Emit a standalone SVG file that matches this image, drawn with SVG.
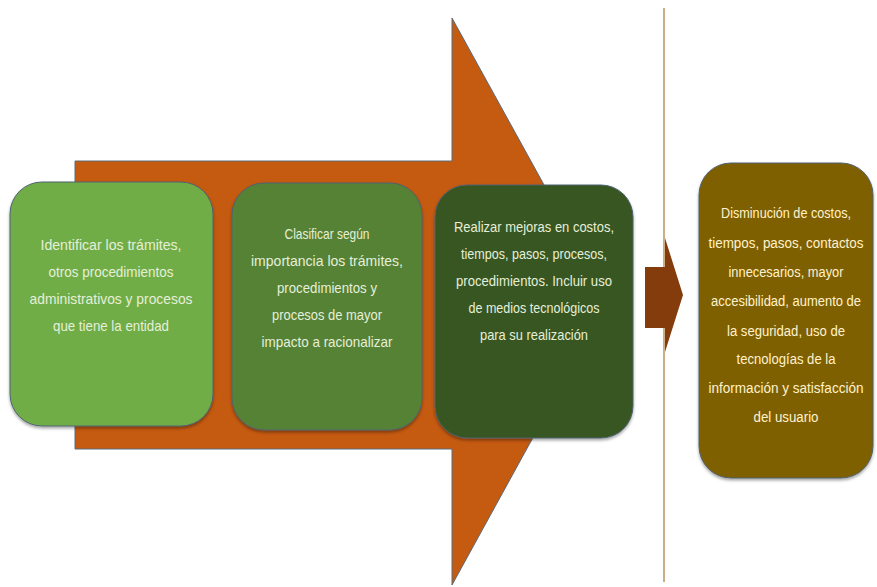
<svg xmlns="http://www.w3.org/2000/svg" width="877" height="587" viewBox="0 0 877 587">
<defs>
<filter id="sh" x="-10%" y="-10%" width="120%" height="125%">
<feDropShadow dx="0" dy="2" stdDeviation="1.5" flood-color="#000" flood-opacity="0.35"/>
</filter>
<style>
.box{stroke:#4f6272;stroke-width:1;filter:url(#sh)}
.t{font-family:"Liberation Sans","Open Sans",sans-serif;font-size:15px;text-anchor:middle}
.s{font-size:14px}
.g{fill:#e6efd9}
.y{fill:#fff2cc}
</style>
</defs>
<rect width="877" height="587" fill="#fff"/>
<g id="connectors">
<line x1="664" y1="8" x2="664" y2="582" stroke="#b8955a" stroke-width="1.5"/>
<polygon id="big-arrow" points="75,161 452,161 452,18 608,301 452,585 452,449 75,449" fill="#c55a11" stroke="#5a6a7a" stroke-width="1"/>
<polygon id="small-arrow" points="645,267 665,267 665,238 683,295 665,352 665,328 645,328" fill="#843c0c"/>
</g>
<g id="node1">
<rect class="box" x="10" y="182" width="203" height="244" rx="32" fill="#70ad47"/>
<text class="t g" x="111" y="250" textLength="141" lengthAdjust="spacingAndGlyphs">Identificar los trámites,</text>
<text class="t g" x="111" y="277" textLength="125" lengthAdjust="spacingAndGlyphs">otros procedimientos</text>
<text class="t g" x="111" y="304" textLength="163" lengthAdjust="spacingAndGlyphs">administrativos y procesos</text>
<text class="t g" x="111" y="331" textLength="116" lengthAdjust="spacingAndGlyphs">que tiene la entidad</text>
</g>
<g id="node2">
<rect class="box" x="232" y="183" width="190" height="247" rx="32" fill="#548235"/>
<text class="t g" x="327" y="239" textLength="85" lengthAdjust="spacingAndGlyphs">Clasificar según</text>
<text class="t g" x="327" y="266" textLength="152" lengthAdjust="spacingAndGlyphs">importancia los trámites,</text>
<text class="t g" x="327" y="293" textLength="100" lengthAdjust="spacingAndGlyphs">procedimientos y</text>
<text class="t g" x="327" y="320" textLength="110" lengthAdjust="spacingAndGlyphs">procesos de mayor</text>
<text class="t g" x="327" y="347" textLength="131" lengthAdjust="spacingAndGlyphs">impacto a racionalizar</text>
</g>
<g id="node3">
<rect class="box" x="435" y="185" width="198" height="253" rx="32" fill="#385723"/>
<text class="t g" x="534" y="232" textLength="160" lengthAdjust="spacingAndGlyphs">Realizar mejoras en costos,</text>
<text class="t g" x="534" y="259" textLength="146" lengthAdjust="spacingAndGlyphs">tiempos, pasos, procesos,</text>
<text class="t g" x="534" y="286" textLength="156" lengthAdjust="spacingAndGlyphs">procedimientos. Incluir uso</text>
<text class="t g" x="534" y="313" textLength="131" lengthAdjust="spacingAndGlyphs">de medios tecnológicos</text>
<text class="t g" x="534" y="340" textLength="108" lengthAdjust="spacingAndGlyphs">para su realización</text>
</g>
<g id="node4">
<rect class="box" x="699" y="163" width="174" height="315" rx="32" fill="#7f6000"/>
<text class="t s y" x="786" y="218" textLength="130" lengthAdjust="spacingAndGlyphs">Disminución de costos,</text>
<text class="t s y" x="786" y="248" textLength="155" lengthAdjust="spacingAndGlyphs">tiempos, pasos, contactos</text>
<text class="t s y" x="786" y="277" textLength="115" lengthAdjust="spacingAndGlyphs">innecesarios, mayor</text>
<text class="t s y" x="786" y="306" textLength="150" lengthAdjust="spacingAndGlyphs">accesibilidad, aumento de</text>
<text class="t s y" x="786" y="336" textLength="118" lengthAdjust="spacingAndGlyphs">la seguridad, uso de</text>
<text class="t s y" x="786" y="364" textLength="99" lengthAdjust="spacingAndGlyphs">tecnologías de la</text>
<text class="t s y" x="786" y="393" textLength="155" lengthAdjust="spacingAndGlyphs">información y satisfacción</text>
<text class="t s y" x="786" y="422" textLength="65" lengthAdjust="spacingAndGlyphs">del usuario</text>
</g>
</svg>
